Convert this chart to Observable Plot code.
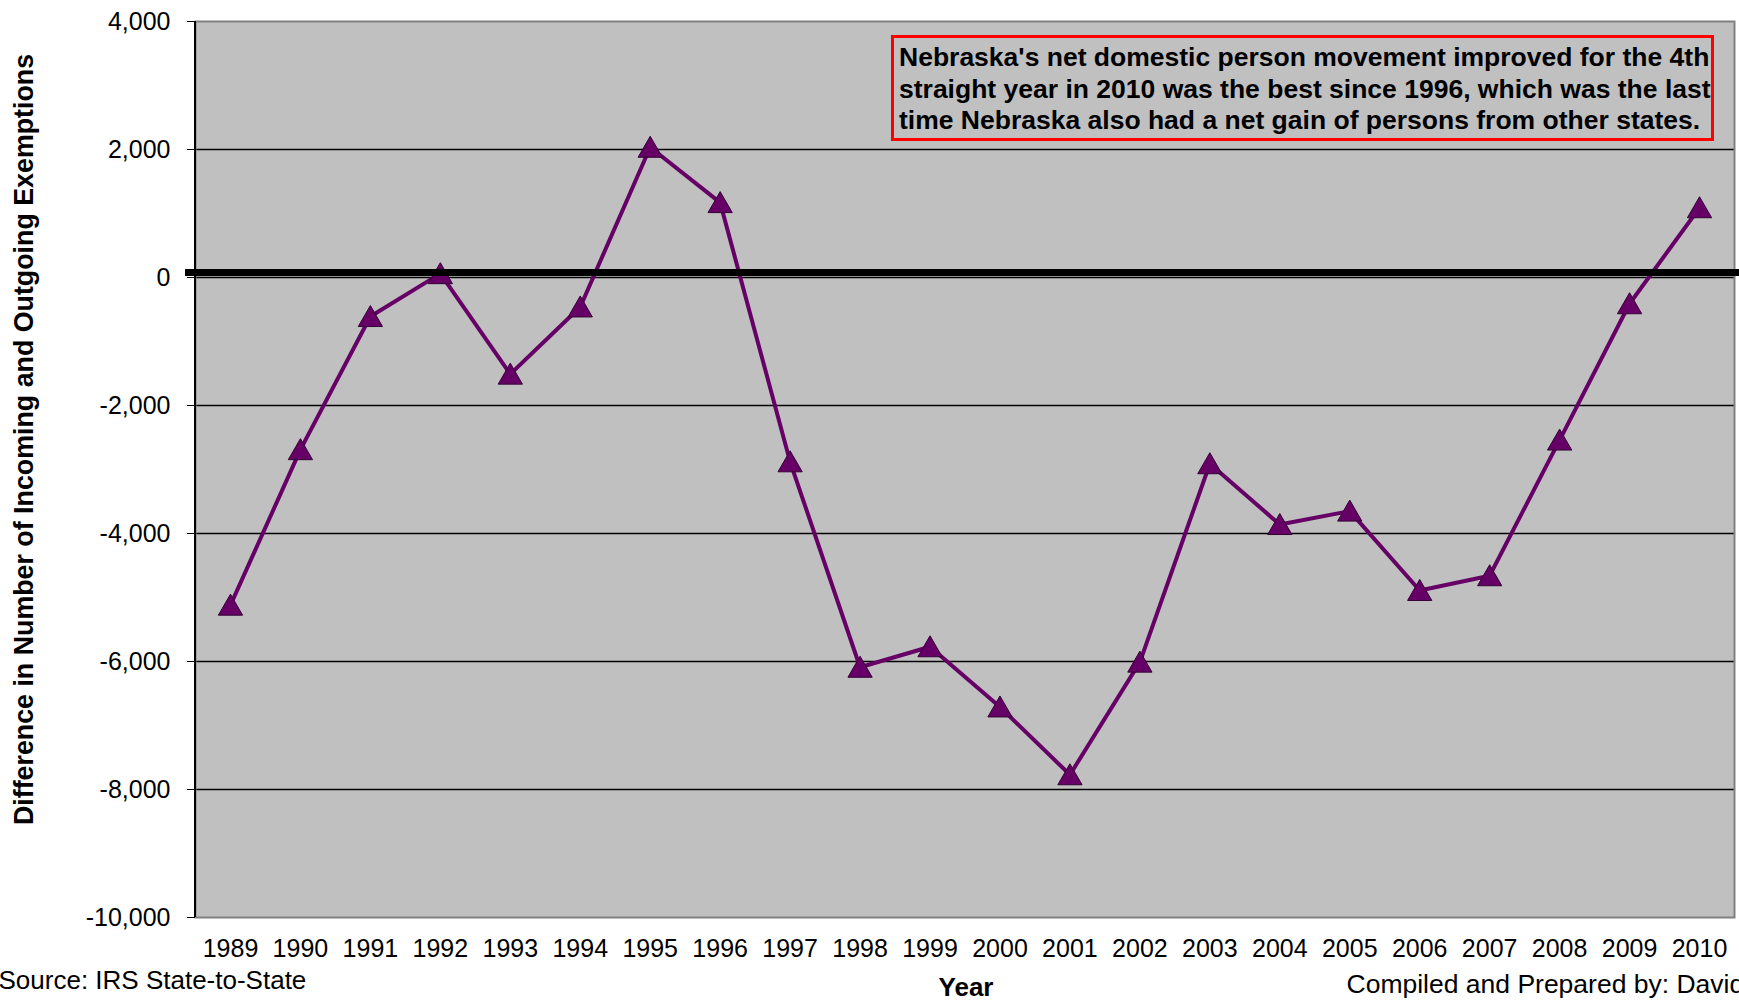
<!DOCTYPE html>
<html>
<head>
<meta charset="utf-8">
<script src="https://cdn.jsdelivr.net/npm/d3@7"></script>
<script src="https://cdn.jsdelivr.net/npm/@observablehq/plot@0.6"></script>
<style>
  html, body { margin: 0; padding: 0; background: #ffffff; overflow: hidden; }
  #wrap { position: relative; width: 1739px; height: 1002px; font-family: "Liberation Sans", Arial, sans-serif; }
  #note {
    position: absolute; left: 891px; top: 35px; width: 823px; height: 106px;
    border: 3px solid #ff0000; background: #c0c0c0;
    font-weight: bold; font-size: 26.5px; line-height: 31.6px; color: #000;
    padding: 4px 0 0 5px; box-sizing: border-box; white-space: nowrap;
  }
</style>
</head>
<body>
<div id="wrap"></div>
<script>
// ---- data ----
const years = ["1989","1990","1991","1992","1993","1994","1995","1996","1997","1998","1999",
               "2000","2001","2002","2003","2004","2005","2006","2007","2008","2009","2010"];
const netExemptions = [-5120, -2690, -610, 60, -1510, -460, 2035, 1170, -2880, -6090, -5770,
                       -6710, -7770, -6010, -2910, -3860, -3650, -4890, -4660, -2540, -410, 1090];
const yTicks = [4000, 2000, 0, -2000, -4000, -6000, -8000, -10000];
const gridValues = [2000, 0, -2000, -4000, -6000, -8000];
const yLabel = "Difference in Number of Incoming and Outgoing Exemptions";
const xLabel = "Year";
const sourceText = "Source: IRS State-to-State";
const creditText = "Compiled and Prepared by: David";
const noteLines = [
  "Nebraska's net domestic person movement improved for the 4th",
  "straight year in 2010 was the best since 1996, which was the last",
  "time Nebraska also had a net gain of persons from other states."
];

const data = years.map((y, i) => ({year: y, value: netExemptions[i]}));
const purple = "#660066";
const fmt = d3.formatLocale({decimal: ".", thousands: ",", grouping: [3], currency: ["$", ""], minus: "-"}).format(",");

const chart = Plot.plot({
  width: 1739,
  height: 1002,
  marginLeft: 195,
  marginRight: 5,
  marginTop: 21,
  marginBottom: 85,
  style: {fontFamily: "'Liberation Sans', Arial, sans-serif", fontSize: "25px", background: "#ffffff", color: "#000"},
  x: {type: "point", domain: years, padding: 0.5, round: false, label: null},
  y: {domain: [-10000, 4000], label: null},
  marks: [
    Plot.frame({fill: "#c0c0c0", stroke: null}),
    Plot.ruleY(gridValues, {stroke: "#000", strokeWidth: 1.5}),
    Plot.frame({stroke: "#808080", strokeWidth: 2, fill: null}),
    Plot.axisY({ticks: yTicks, tickFormat: fmt, tickSize: 8, tickPadding: 17,
                fontSize: 25, label: null, stroke: "#000"}),
    Plot.axisX({tickSize: 0, tickPadding: 22, fontSize: 25, label: null}),
    Plot.line(data, {x: "year", y: "value", stroke: purple, strokeWidth: 4}),
    Plot.dot(data, {x: "year", y: "value", symbol: "triangle", r: 9, dy: 3,
                    fill: purple, stroke: "#330033", strokeWidth: 1}),
    Plot.ruleY([0], {stroke: "#000", strokeWidth: 7, dy: -5, insetLeft: -10, insetRight: -5}),
    Plot.text([yLabel], {text: d => d, frameAnchor: "left", textAnchor: "middle", rotate: -90,
                         dx: -171, dy: -30, fontWeight: "bold", fontSize: 26.8}),
    Plot.text([xLabel], {text: d => d, frameAnchor: "bottom", dx: 1, dy: 78,
                         fontWeight: "bold", fontSize: 26}),
    Plot.text([sourceText], {text: d => d, frameAnchor: "bottom-left", textAnchor: "start",
                             dx: -197, dy: 71, fontSize: 26}),
    Plot.text([creditText], {text: d => d, frameAnchor: "bottom-right", textAnchor: "start",
                             dx: -388, dy: 75, fontSize: 26.5})
  ]
});

// dark left edge of the plot frame
const svg = d3.select(chart);
const frameNode = svg.select('[aria-label="frame"]').node();
if (frameNode) {
  const r = frameNode.tagName === "rect" ? frameNode : frameNode.querySelector("rect");
  if (r) {
    const x = +r.getAttribute("x"), y = +r.getAttribute("y"), h = +r.getAttribute("height");
    svg.append("line").attr("x1", x).attr("x2", x).attr("y1", y).attr("y2", y + h)
      .attr("stroke", "#000").attr("stroke-width", 2);
  }
}

const wrap = document.getElementById("wrap");
wrap.appendChild(chart);
const note = document.createElement("div");
note.id = "note";
note.innerHTML = noteLines.join("<br>");
wrap.appendChild(note);
</script>
</body>
</html>
